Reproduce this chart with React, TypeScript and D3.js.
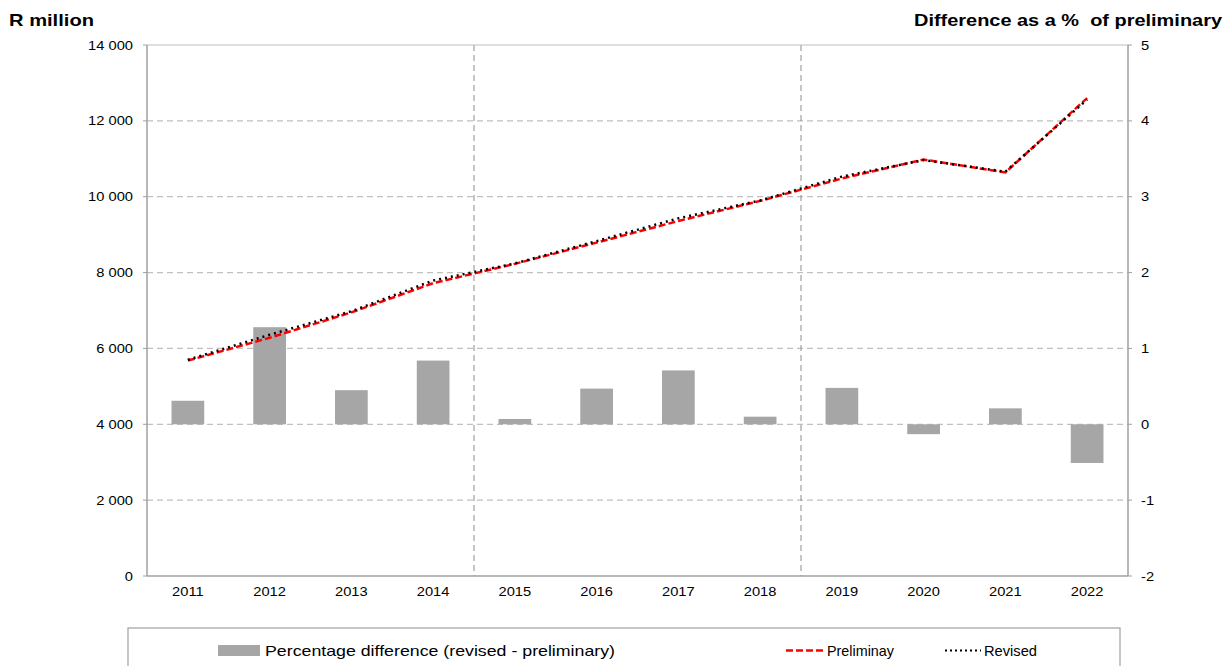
import React from "react";
import * as d3 from "d3";

const years = ["2011","2012","2013","2014","2015","2016","2017","2018","2019","2020","2021","2022"];
const pctDiff = [0.31, 1.28, 0.45, 0.84, 0.07, 0.47, 0.71, 0.10, 0.48, -0.13, 0.21, -0.51];
const preliminary = [5680, 6280, 6950, 7720, 8230, 8790, 9360, 9890, 10480, 10980, 10640, 12600];
const revised = [5700, 6360, 6980, 7790, 8240, 8830, 9430, 9900, 10530, 10965, 10660, 12560];
const leftTicks = [0, 2000, 4000, 6000, 8000, 10000, 12000, 14000];
const rightTicks = [-2, -1, 0, 1, 2, 3, 4, 5];
const dividerAfter = ["2014", "2018"];

const W = 1224, H = 666;
const L = 147, R = 1128, T = 45, B = 576;
const FONT = "'Liberation Sans', Arial, sans-serif";
const SX = 1.13;

function SText(props: { x: number; y: number; anchor: string; size: number; children: any }) {
  return (
    <text transform={`translate(${props.x},${props.y}) scale(${SX},1)`} textAnchor={props.anchor}
      fontSize={props.size} fill="#000">{props.children}</text>
  );
}

export default function App() {
  const x = d3.scaleBand<string>().domain(years).range([L, R]).paddingInner(0.6).paddingOuter(0.3);
  const xb = d3.scaleBand<string>().domain(years).range([L, R]);
  const yL = d3.scaleLinear().domain([0, 14000]).range([B, T]);
  const yR = d3.scaleLinear().domain([-2, 5]).range([B, T]);
  const fmt = (v: number) => d3.format(",")(v).replace(/,/g, " ");
  const lineP = d3.line<number>().x((_, i) => xb(years[i])! + xb.bandwidth() / 2).y(v => yL(v));
  const grid = "#c0c0c0";
  return (
    <svg width={W} height={H} style={{ position: "absolute", left: 0, top: 0 }} fontFamily={FONT}>
      <rect x={0} y={0} width={W} height={H} fill="#fff" />
      {leftTicks.filter(t => t > 0 && t < 14000).map(t => (
        <line key={t} x1={L} x2={R} y1={yL(t)} y2={yL(t)} stroke={grid} strokeWidth={1.2} strokeDasharray="6,4" />
      ))}
      {dividerAfter.map(yv => {
        const xx = xb(yv)! + xb.bandwidth();
        return <line key={yv} x1={xx} x2={xx} y1={T} y2={B} stroke="#8c8c8c" strokeWidth={1} strokeDasharray="6,4" />;
      })}
      {pctDiff.map((v, i) => (
        <rect key={years[i]} x={x(years[i])} width={x.bandwidth()}
          y={Math.min(yR(v), yR(0))} height={Math.abs(yR(v) - yR(0))} fill="#a6a6a6" />
      ))}
      <line x1={L} x2={R} y1={T} y2={T} stroke="#bdbdbd" strokeWidth={1} />
      <line x1={L} x2={L} y1={T} y2={B} stroke="#a0a0a0" strokeWidth={1.5} />
      <line x1={R} x2={R} y1={T} y2={B} stroke="#a0a0a0" strokeWidth={1.5} />
      <line x1={L} x2={R} y1={B} y2={B} stroke="#a0a0a0" strokeWidth={1.5} />
      <path d={lineP(preliminary)!} fill="none" stroke="#ff0000" strokeWidth={2.5} strokeDasharray="7,3" />
      <path d={lineP(revised)!} fill="none" stroke="#000" strokeWidth={2.5} strokeDasharray="2,4" />
      {leftTicks.map(t => (
        <g key={t}>
          <line x1={L - 4} x2={L} y1={yL(t)} y2={yL(t)} stroke="#a0a0a0" />
          <SText x={133} y={yL(t) + 4.5} anchor="end" size={13}>{fmt(t)}</SText>
        </g>
      ))}
      {rightTicks.map(t => (
        <g key={t}>
          <line x1={R} x2={R + 4} y1={yR(t)} y2={yR(t)} stroke="#a0a0a0" />
          <SText x={1141} y={yR(t) + 4.5} anchor="start" size={13}>{t}</SText>
        </g>
      ))}
      {years.map(yv => (
        <SText key={yv} x={xb(yv)! + xb.bandwidth() / 2} y={596} anchor="middle" size={13}>{yv}</SText>
      ))}
      <text x={9} y={26} fontSize={16.5} fontWeight="bold" textLength={85} lengthAdjust="spacingAndGlyphs">R million</text>
      <text x={914} y={26} fontSize={16.5} fontWeight="bold" textLength={308} lengthAdjust="spacingAndGlyphs" style={{ whiteSpace: "pre" }}>Difference as a %  of preliminary</text>
      <rect x={128} y={628} width={992} height={50} fill="#fff" stroke="#a0a0a0" strokeWidth={1.2} />
      <rect x={218} y={645} width={42} height={11} fill="#a6a6a6" />
      <text x={265} y={656} fontSize={15} textLength={350} lengthAdjust="spacingAndGlyphs">Percentage difference (revised - preliminary)</text>
      <line x1={786} x2={825} y1={650.5} y2={650.5} stroke="#ff0000" strokeWidth={2.5} strokeDasharray="7,3" />
      <text x={827} y={656} fontSize={15} textLength={67} lengthAdjust="spacingAndGlyphs">Preliminay</text>
      <line x1={945} x2={981} y1={650.5} y2={650.5} stroke="#000" strokeWidth={2} strokeDasharray="2,3" />
      <text x={984} y={656} fontSize={15} textLength={53} lengthAdjust="spacingAndGlyphs">Revised</text>
    </svg>
  );
}
